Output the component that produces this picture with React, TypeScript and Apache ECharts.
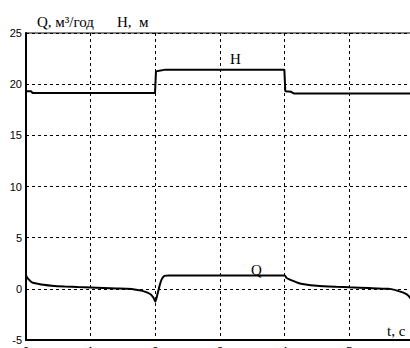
import React, { useEffect, useRef } from "react";
import * as echarts from "echarts";

const hTime = [0, 0.08, 0.1, 1.995, 2.0, 2.01, 2.1, 2.15, 3.995, 4.0, 4.01, 4.1, 4.14, 6];
const hValues = [19.3, 19.3, 19.14, 19.14, 19.14, 21.25, 21.35, 21.42, 21.42, 21.42, 19.3, 19.25, 19.1, 19.1];

const qTime = [0, 0.03, 0.1, 0.18, 0.27, 0.4, 0.6, 0.8, 1.0, 1.2, 1.4, 1.56, 1.7, 1.8, 1.87, 1.93, 1.97, 2.0, 2.03, 2.07, 2.1, 2.14, 2.2, 4.0, 4.03, 4.08, 4.12, 4.2, 4.3, 4.5, 4.8, 5.0, 5.3, 5.6, 5.7, 5.8, 5.86, 5.91, 5.95];
const qValues = [1.3, 1.0, 0.6, 0.5, 0.4, 0.3, 0.22, 0.17, 0.13, 0.08, 0.03, 0, -0.08, -0.2, -0.35, -0.55, -0.85, -1.25, -0.6, 0.4, 0.95, 1.27, 1.3, 1.3, 1.05, 0.9, 0.8, 0.6, 0.45, 0.3, 0.2, 0.15, 0.08, 0, -0.1, -0.3, -0.45, -0.65, -0.95];

const xTicks = [0, 1, 2, 3, 4, 5, 6];
const yMin = -5;
const yMax = 25;
const yStep = 5;

export default function App() {
  const ref = useRef<HTMLDivElement>(null);
  useEffect(() => {
    if (!ref.current) return;
    const chart = echarts.init(ref.current, undefined, { renderer: "svg" });
    const dash = { color: "#000", width: 1, type: [3, 3] as any };
    const serif = "15px 'Liberation Serif'";
    chart.setOption({
      animation: false,
      backgroundColor: "#fff",
      grid: {
        left: 26, top: 33, right: -4, bottom: 8,
        show: true, borderColor: "#000", borderWidth: 1,
        containLabel: false, outerBoundsMode: "none",
      },
      xAxis: {
        type: "value",
        min: xTicks[0],
        max: xTicks[xTicks.length - 1],
        interval: 1,
        axisLine: { show: true, onZero: false, lineStyle: { color: "#000", width: 2 } },
        axisTick: { show: false },
        axisLabel: { color: "#000", fontFamily: "Liberation Sans", fontSize: 11, margin: 5 },
        splitLine: { show: true, lineStyle: dash },
      },
      yAxis: {
        type: "value",
        min: yMin,
        max: yMax,
        interval: yStep,
        axisLine: { show: true, onZero: false, lineStyle: { color: "#000", width: 2 } },
        axisTick: { show: false },
        axisLabel: { color: "#000", fontFamily: "Liberation Sans", fontSize: 11, margin: 4 },
        splitLine: { show: true, lineStyle: dash },
      },
      series: [
        {
          type: "line",
          data: hTime.map((t, i) => [t, hValues[i]]),
          showSymbol: false,
          lineStyle: { color: "#000", width: 2 },
        },
        {
          type: "line",
          data: qTime.map((t, i) => [t, qValues[i]]),
          showSymbol: false,
          smooth: 0.2,
          lineStyle: { color: "#000", width: 2 },
        },
      ],
      graphic: [
        { type: "text", left: 37, top: 14, style: { text: "Q, м³/год", font: serif, fill: "#000" } },
        { type: "text", left: 117, top: 14, style: { text: "H,  м", font: serif, fill: "#000" } },
        { type: "text", left: 230, top: 51, style: { text: "H", font: serif, fill: "#000" } },
        { type: "text", left: 251, top: 262, style: { text: "Q", font: serif, fill: "#000" } },
        { type: "text", left: 387, top: 323, style: { text: "t, с", font: serif, fill: "#000" } },
      ],
    });
    return () => chart.dispose();
  }, []);
  return <div ref={ref} style={{ position: "fixed", left: 0, top: 0, width: 410, height: 348, overflow: "hidden" }} />;
}
